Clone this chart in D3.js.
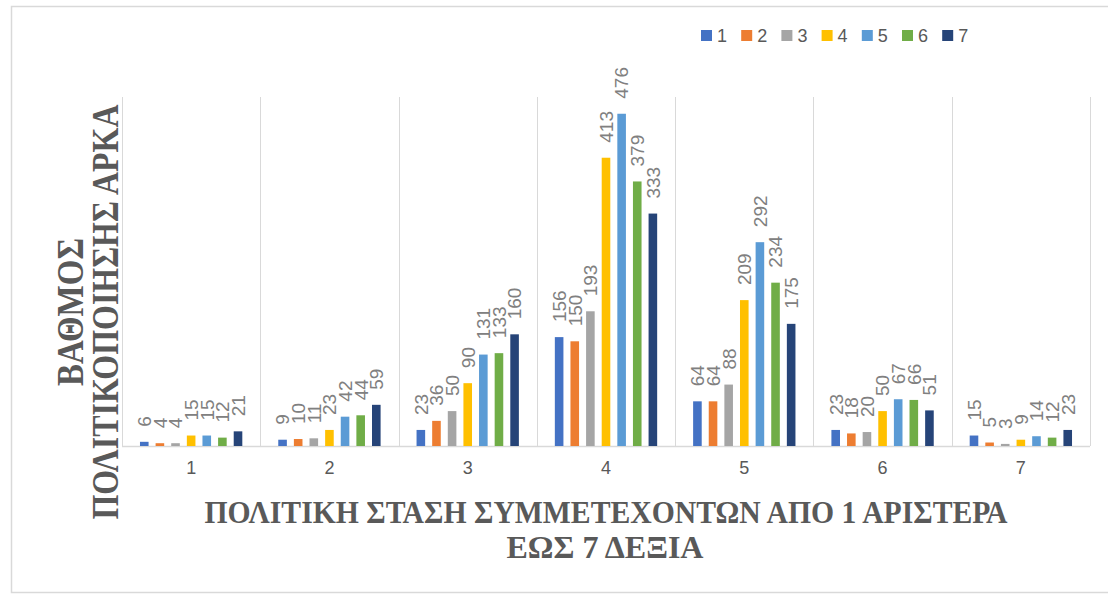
<!DOCTYPE html>
<head>
  <meta charset="utf-8">
  <style>
    body { margin: 0; background: #fff; }
    svg text { font-family: "Liberation Sans", Arial, sans-serif; }
    svg .title {
      font-family: "Liberation Serif", "Times New Roman", serif;
      font-weight: bold;
      fill: #595959;
    }
    svg .grid { stroke: #d9d9d9; stroke-width: 1px; }
  </style>
</head>
<body>
<script src="https://d3js.org/d3.v7.min.js"></script>
<script>
  // categories on the x axis (political stance 1..7)
  var categories = ["1", "2", "3", "4", "5", "6", "7"];
  // series (degree of politicization 1..7)
  var seriesNames = ["1", "2", "3", "4", "5", "6", "7"];
  var s1 = [6, 9, 23, 156, 64, 23, 15];
  var s2 = [4, 10, 36, 150, 64, 18, 5];
  var s3 = [4, 11, 50, 193, 88, 20, 3];
  var s4 = [15, 23, 90, 413, 209, 50, 9];
  var s5 = [15, 42, 131, 476, 292, 67, 14];
  var s6 = [12, 44, 133, 379, 234, 66, 12];
  var s7 = [21, 59, 160, 333, 175, 51, 23];
  var seriesValues = [s1, s2, s3, s4, s5, s6, s7];
  var colors = ["#4472C4", "#ED7D31", "#A5A5A5", "#FFC000", "#5B9BD5", "#70AD47", "#264478"];
  var yDomain = [0, 500];

  var W = 1108, H = 594;
  var plot = { left: 122, right: 1090, top: 97, bottom: 446 };

  var svg = d3.select("body")
    .append("svg")
      .attr("width", W)
      .attr("height", H);

  // outer chart border
  svg.append("rect")
    .attr("x", 11.5).attr("y", 6.5)
    .attr("width", 1120).attr("height", 586)
    .style("fill", "none")
    .style("stroke", "#d9d9d9")
    .style("stroke-width", "1.5px");

  // scales
  var x0 = d3.scaleBand().domain(categories).range([plot.left, plot.right]);
  var bw = x0.bandwidth();
  var x1 = d3.scaleBand().domain(seriesNames)
    .range([0.13 * bw, 0.87 * bw])
    .paddingInner(0.45);
  var y = d3.scaleLinear().domain(yDomain).range([plot.bottom, plot.top]);

  // vertical separators between categories
  var sepX = categories.map(function (c) { return x0(c); }).concat([plot.right]);
  svg.selectAll("line.grid")
    .data(sepX)
    .enter().append("line")
      .classed("grid", true)
      .attr("x1", function (d) { return Math.round(d) + 0.5; })
      .attr("x2", function (d) { return Math.round(d) + 0.5; })
      .attr("y1", plot.top)
      .attr("y2", plot.bottom);

  // baseline
  svg.append("line")
    .attr("x1", plot.left).attr("x2", plot.right)
    .attr("y1", plot.bottom + 0.5).attr("y2", plot.bottom + 0.5)
    .style("stroke", "#d9d9d9")
    .style("stroke-width", "1.5px");

  // x axis labels
  var xAxis = d3.axisBottom(x0).tickSize(0).tickPadding(15);
  var xa = svg.append("g")
    .attr("transform", "translate(0," + plot.bottom + ")")
    .call(xAxis);
  xa.select(".domain").remove();
  xa.selectAll(".tick text")
    .style("font-family", "'Liberation Sans', Arial, sans-serif")
    .style("font-size", "18px")
    .style("fill", "#595959");

  // bars
  var groups = svg.selectAll("g.series")
    .data(seriesNames)
    .enter().append("g")
      .classed("series", true)
      .style("fill", function (d, i) { return colors[i]; });

  groups.selectAll("rect")
    .data(function (s, i) {
      return seriesValues[i].map(function (v, j) { return { s: s, c: categories[j], v: v }; });
    })
    .enter().append("rect")
      .attr("x", function (d) { return x0(d.c) + x1(d.s); })
      .attr("y", function (d) { return y(d.v); })
      .attr("width", x1.bandwidth())
      .attr("height", function (d) { return plot.bottom - y(d.v); });

  // rotated value labels
  groups.selectAll("text")
    .data(function (s, i) {
      return seriesValues[i].map(function (v, j) { return { s: s, c: categories[j], v: v }; });
    })
    .enter().append("text")
      .attr("transform", function (d) {
        var cx = x0(d.c) + x1(d.s) + x1.bandwidth() / 2;
        return "translate(" + cx + "," + (y(d.v) - 15) + ") rotate(-90)";
      })
      .attr("dy", "0.36em")
      .text(function (d) { return d.v; })
      .style("text-anchor", "start")
      .style("font-size", "19px")
      .style("fill", "#808080");

  // legend
  var legend = svg.selectAll("g.legend")
    .data(seriesNames)
    .enter().append("g")
      .classed("legend", true)
      .attr("transform", function (d, i) { return "translate(" + (701 + i * 40.2) + ",30)"; });
  legend.append("rect")
    .attr("width", 11).attr("height", 11)
    .style("fill", function (d, i) { return colors[i]; });
  legend.append("text")
    .attr("x", 16).attr("y", 12)
    .text(function (d) { return d; })
    .style("font-size", "18px")
    .style("fill", "#595959");

  // x axis title
  svg.append("text")
    .classed("title", true)
    .attr("x", 606).attr("y", 523)
    .attr("textLength", 803)
    .attr("lengthAdjust", "spacingAndGlyphs")
    .style("text-anchor", "middle")
    .style("font-size", "32px")
    .text("ΠΟΛΙΤΙΚΗ ΣΤΑΣΗ ΣΥΜΜΕΤΕΧΟΝΤΩΝ ΑΠΟ 1 ΑΡΙΣΤΕΡΑ");
  svg.append("text")
    .classed("title", true)
    .attr("x", 605).attr("y", 558)
    .attr("textLength", 197)
    .attr("lengthAdjust", "spacingAndGlyphs")
    .style("text-anchor", "middle")
    .style("font-size", "32px")
    .text("ΕΩΣ 7 ΔΕΞΙΑ");

  // y axis title (two lines, rotated)
  svg.append("text")
    .classed("title", true)
    .attr("transform", "translate(83,312) rotate(-90)")
    .attr("textLength", 148)
    .attr("lengthAdjust", "spacingAndGlyphs")
    .style("text-anchor", "middle")
    .style("font-size", "38px")
    .text("ΒΑΘΜΟΣ");
  svg.append("text")
    .classed("title", true)
    .attr("transform", "translate(118,312) rotate(-90)")
    .attr("textLength", 415)
    .attr("lengthAdjust", "spacingAndGlyphs")
    .style("text-anchor", "middle")
    .style("font-size", "38px")
    .text("ΠΟΛΙΤΙΚΟΠΟΙΗΣΗΣ ΑΡΚΑ");
</script>
</body>
</html>
